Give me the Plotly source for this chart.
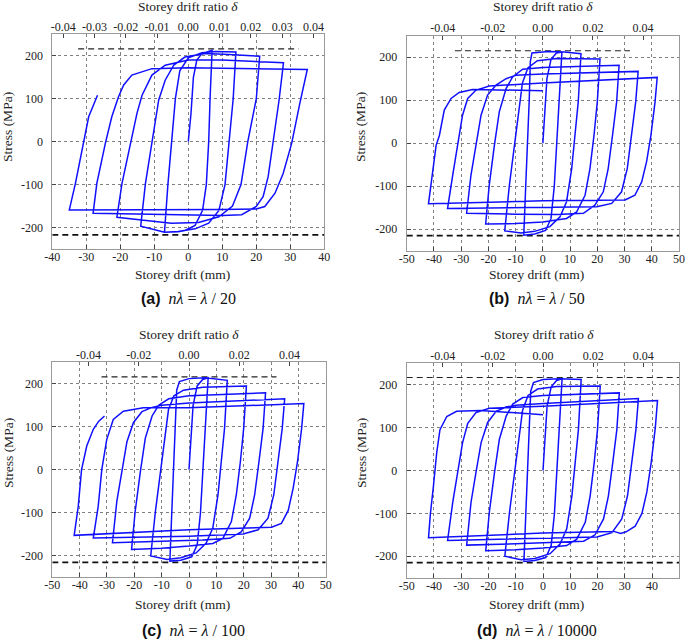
import plotly.graph_objects as go

# ---------------- data ----------------
# Panel (a)  n*lambda = lambda/20
a_drift = [0, 0.8, 1.5, 2.5, 4, 7,
           6.4, 6.0, 5.3, 4.2, 2, -1, -3, -7,
           -6, -5, -3.8, -2.5, 0, 4, 8, 14,
           13.2, 12, 10.8, 9, 6, 2, -3, -7, -14,
           -12.6, -10.7, -8.7, -6.8, -4.3, -1, 5, 12, 21,
           20, 17.5, 15.5, 13, 9, 3, -5, -21,
           -19.5, -17, -15.1, -13.6, -10.7, -6.8, 0, 10, 28,
           26.7, 25, 23.5, 22, 20, 15.7, 10, -28,
           -26.9, -24.4, -22.5, -20.5, -19, -16.6, -10.7, 0, 35,
           32.8, 30.4, 27.9, 25.5, 22.5, 20, 10, -35,
           -33.2, -30.8, -29.3, -26.7]
a_stress = [0, 66, 150, 190, 205, 213,
            100, 0, -100, -160, -195, -207, -210, -211,
            -100, 0, 100, 165, 195, 207, 210, 209,
            100, 0, -100, -160, -190, -203, -209, -211, -197,
            -97, 0, 97, 143, 178, 197, 205, 203, 199,
            100, 0, -100, -150, -175, -188, -190, -176,
            -97, -4, 66, 108, 155, 178, 190, 190, 184,
            97, 0, -81, -128, -151, -170, -172, -167,
            -97, -4, 58, 105, 132, 155, 170, 172, 168,
            89, -4, -74, -120, -151, -157, -158, -159,
            -97, 4, 58, 108]

# Panel (b)  n*lambda = lambda/50
b_drift = [0, 0.5, 1.5, 3, 5, 7,
           6, 5, 4.2, 3, 1, -3, -7,
           -6.3, -5.6, -5, -4.6, -4, 2, 8, 14,
           13, 11.8, 10.6, 8.7, 6.3, 2.6, -3, -8, -14,
           -12.3, -10.5, -8.9, -7.5, -5.5, -2, 5, 21,
           20, 18.8, 17.3, 15.5, 12.4, 8.7, 0, -10, -21,
           -19.7, -17.8, -16, -13.5, -11.1, -7.4, 0, 28,
           27.1, 25.6, 24, 22.2, 19.1, 14.9, 5, -10, -28,
           -26.4, -24.6, -22.7, -20.3, -17.2, -13.5, -9.9, 0, 35,
           34.1, 32.6, 31, 28.9, 25.3, 19.8, 0, -35,
           -33.1, -31.3, -29.5, -27.6, -24.6, -19.7, 0, 42,
           41.2, 39.7, 38.1, 36.3, 33.8, 30.2, 0, -42,
           -40.5, -39.2, -38, -36.2, -33.7, -30.7, -25.8, 0]
b_stress = [0, 60, 150, 195, 210, 212,
            100, 0, -100, -175, -203, -211, -214,
            -100, 0, 100, 190, 210, 213, 212, 208,
            96, 19, -59, -136, -171, -194, -205, -209, -204,
            -98, -5, 81, 140, 175, 192, 197, 196,
            96, 19, -59, -121, -160, -175, -183, -187, -188,
            -98, -5, 73, 127, 154, 172, 176, 181,
            96, 19, -59, -113, -144, -163, -166, -165, -163,
            -74, -5, 65, 112, 135, 150, 158, 161, 167,
            96, 19, -59, -113, -140, -148, -150, -152,
            -74, -5, 65, 104, 123, 133, 140, 153,
            96, 19, -43, -90, -121, -132, -134, -141,
            -74, -5, 18, 77, 104, 118, 125, 122]

# Panel (c)  n*lambda = lambda/100
c_drift = [0, 0.5, 1.5, 3, 5, 7,
           6, 5, 4.2, 3, 1, -3, -7,
           -6.3, -5.6, -5, -4.5, -3.5, 0, 6, 14,
           13, 11.8, 10.6, 8.7, 6.3, 2.6, -3, -8, -14,
           -12.3, -10.5, -8.9, -7.5, -5.5, -2, 5, 21,
           20, 18.8, 17.3, 15.5, 12.4, 8.7, 0, -10, -21,
           -19.7, -17.8, -16, -13.5, -11.1, -7.4, 0, 28,
           27.1, 25.6, 24, 22.2, 19.1, 14.9, 5, -10, -28,
           -26.4, -24.6, -22.7, -20.3, -17.2, -13.5, -9.9, 0, 35,
           34.1, 32.6, 31, 28.9, 25.3, 19.8, 0, -35,
           -33.2, -31.9, -30.1, -27.7, -24, -16.7, 0, 42,
           41.2, 39.7, 38.1, 36.3, 33.8, 30.2, 0, -42,
           -40.5, -39.3, -37.4, -35, -33, -30.9]
c_stress = [0, 60, 150, 195, 210, 214,
            100, 0, -100, -175, -203, -211, -213,
            -100, 0, 100, 185, 205, 212, 214, 208,
            96, 19, -59, -136, -171, -194, -205, -209, -201,
            -98, -5, 81, 140, 172, 185, 192, 195,
            96, 19, -59, -121, -160, -172, -178, -183, -186,
            -98, -5, 73, 125, 150, 165, 172, 179,
            96, 19, -59, -113, -145, -160, -164, -167, -170,
            -74, -5, 65, 110, 135, 145, 150, 155, 165,
            96, 19, -59, -113, -140, -150, -155, -159,
            -85, 0, 70, 117, 136, 144, 144, 154,
            96, 19, -43, -95, -125, -134, -140, -153,
            -85, 0, 55, 94, 113, 125]

# Panel (d)  n*lambda = lambda/10000
d_drift = [0, 0.5, 1.5, 3, 5, 7,
           6, 5, 4.2, 3, 1, -3, -7,
           -6.3, -5.6, -5, -4.5, -3.5, 0, 6, 14,
           13, 11.8, 10.6, 8.7, 6.3, 2.6, -3, -8, -14,
           -12.3, -10.5, -8.9, -7.5, -5.5, -2, 5, 21,
           20, 18.8, 17.3, 15.5, 12.4, 8.7, 0, -10, -21,
           -19.7, -17.8, -16, -13.5, -11.1, -7.4, 0, 28,
           27.1, 25.6, 24, 22.2, 19.1, 14.9, 5, -10, -28,
           -26.4, -24.6, -22.7, -20.3, -17.2, -13.5, -9.9, 0, 35,
           34.1, 32.6, 31, 28.9, 25.3, 19.8, 0, -35,
           -33.1, -31.3, -29.5, -27.6, -24.6, -19.7, 0, 42,
           41.2, 39.7, 38.1, 36.3, 33.8, 30.5, 28.5, 26, 0, -42,
           -41.3, -40.2, -39, -37.8, -35.3, -31.7, -23, 0]
d_stress = [0, 60, 150, 195, 210, 214,
            100, 0, -100, -175, -203, -210, -212,
            -100, 0, 100, 185, 205, 212, 214, 212,
            96, 19, -59, -136, -171, -194, -205, -208, -200,
            -98, -5, 81, 140, 175, 190, 196, 197,
            96, 19, -59, -121, -160, -175, -181, -185, -187,
            -98, -5, 73, 127, 155, 170, 175, 181,
            96, 19, -59, -113, -150, -165, -168, -171, -174,
            -74, -5, 65, 112, 138, 148, 152, 156, 168,
            96, 19, -59, -113, -145, -155, -158, -163,
            -74, -5, 65, 110, 135, 145, 150, 163,
            100, 19, -50, -100, -130, -143, -147, -142, -146, -157,
            -100, -37, 41, 95, 126, 138, 140, 130]

# dashed reference (limit stress) lines: [x0, x1], y
a_upper_x, a_upper_y = [-32.4, 32.4], 216
a_lower_x, a_lower_y = [-40, 40], -217
b_upper_x, b_upper_y = [-32.3, 32], 215
b_lower_x, b_lower_y = [-50, 50], -215
c_upper_x, c_upper_y = [-32, 32], 216
c_lower_x, c_lower_y = [-50, 50], -216
d_upper_x, d_upper_y = [-50, 50], 217
d_lower_x, d_lower_y = [-50, 50], -215

# tick labels
stress_ticks = [-200, -100, 0, 100, 200]
stress_labels = ["-200", "-100", "0", "100", "200"]
drift_ticks_a = [-40, -30, -20, -10, 0, 10, 20, 30, 40]
drift_labels_a = ["-40", "-30", "-20", "-10", "0", "10", "20", "30", "40"]
drift_ticks_b = [-50, -40, -30, -20, -10, 0, 10, 20, 30, 40, 50]
drift_labels_b = ["-50", "-40", "-30", "-20", "-10", "0", "10", "20", "30", "40", "50"]
ratio_ticks_a = [-0.04, -0.03, -0.02, -0.01, 0.0, 0.01, 0.02, 0.03, 0.04]
ratio_labels_a = ["-0.04", "-0.03", "-0.02", "-0.01", "0.00", "0.01", "0.02", "0.03", "0.04"]
ratio_ticks_b = [-0.04, -0.02, 0.0, 0.02, 0.04]
ratio_labels_b = ["-0.04", "-0.02", "0.00", "0.02", "0.04"]
drift_per_ratio = 920.0  # mm per unit drift ratio

captions = ["(a)", "(b)", "(c)", "(d)"]
denominators = ["20", "50", "100", "10000"]

# ---------------- figure ----------------
W, H = 685, 639
SERIF = "Liberation Serif"
BLUE = "#1010ff"

panels = [
    dict(x=a_drift, y=a_stress, up=(a_upper_x, a_upper_y), lo=(a_lower_x, a_lower_y),
         px=(52.3, 324.3), py=(34.3, 249.0), xr=[-40, 40],
         xt=(drift_ticks_a, drift_labels_a), rt=(ratio_ticks_a, ratio_labels_a)),
    dict(x=b_drift, y=b_stress, up=(b_upper_x, b_upper_y), lo=(b_lower_x, b_lower_y),
         px=(406.7, 679.0), py=(35.7, 250.7), xr=[-50, 50],
         xt=(drift_ticks_b, drift_labels_b), rt=(ratio_ticks_b, ratio_labels_b)),
    dict(x=c_drift, y=c_stress, up=(c_upper_x, c_upper_y), lo=(c_lower_x, c_lower_y),
         px=(52.3, 325.7), py=(362.3, 577.0), xr=[-50, 50],
         xt=(drift_ticks_b, drift_labels_b), rt=(ratio_ticks_b, ratio_labels_b)),
    dict(x=d_drift, y=d_stress, up=(d_upper_x, d_upper_y), lo=(d_lower_x, d_lower_y),
         px=(406.7, 679.3), py=(363.3, 577.7), xr=[-50, 50],
         xt=(drift_ticks_b, drift_labels_b), rt=(ratio_ticks_b, ratio_labels_b)),
]

fig = go.Figure()
layout = dict(width=W, height=H, margin=dict(l=0, r=0, t=0, b=0, autoexpand=False),
              paper_bgcolor="white", plot_bgcolor="white", showlegend=False,
              font=dict(family=SERIF, size=12, color="#222"))
annotations = []

def fx(p):
    return p / W

def fy(p):
    return 1 - p / H

for i, P in enumerate(panels, start=1):
    xa, ya, xt_name = f"x{i}", f"y{i}", f"x{i+4}"
    # reference dashed lines
    fig.add_trace(go.Scatter(x=P["up"][0], y=[P["up"][1]] * 2, mode="lines",
                             line=dict(color="#222", width=1.1, dash="6px,4px"),
                             xaxis=xa, yaxis=ya, hoverinfo="skip"))
    fig.add_trace(go.Scatter(x=P["lo"][0], y=[P["lo"][1]] * 2, mode="lines",
                             line=dict(color="#111", width=1.7, dash="6px,4px"),
                             xaxis=xa, yaxis=ya, hoverinfo="skip"))
    # hysteresis curve
    fig.add_trace(go.Scatter(x=P["x"], y=P["y"], mode="lines",
                             line=dict(color=BLUE, width=1.5),
                             xaxis=xa, yaxis=ya))
    # invisible trace on top ratio axis
    fig.add_trace(go.Scatter(x=[P["xr"][0] / drift_per_ratio, P["xr"][1] / drift_per_ratio],
                             y=[None, None], mode="lines", xaxis=xt_name, yaxis=ya,
                             hoverinfo="skip"))

    dom_x = [fx(P["px"][0]), fx(P["px"][1])]
    dom_y = [fy(P["py"][1]), fy(P["py"][0])]
    common = dict(showline=True, linecolor="#999", linewidth=1, ticks="inside",
                  ticklen=4, tickcolor="#444", zeroline=False, automargin=False,
                  tickfont=dict(family=SERIF, size=12, color="#222"))
    layout[f"xaxis{i}"] = dict(domain=dom_x, anchor=ya, range=P["xr"],
                               tickmode="array", tickvals=P["xt"][0], ticktext=P["xt"][1],
                               showgrid=True, gridcolor="#808080", griddash="3px,3px", gridwidth=0.9,
                               mirror=False, ticklabelstandoff=-3, **common)
    layout[f"yaxis{i}"] = dict(domain=dom_y, anchor=xa, range=[-250, 250],
                               tickmode="array", tickvals=stress_ticks, ticktext=stress_labels,
                               showgrid=True, gridcolor="#808080", griddash="3px,3px", gridwidth=0.9,
                               mirror=True, ticklabelstandoff=6, **common)
    layout[f"xaxis{i+4}"] = dict(overlaying=xa, anchor=ya, side="top",
                                 range=[P["xr"][0] / drift_per_ratio, P["xr"][1] / drift_per_ratio],
                                 tickmode="array", tickvals=P["rt"][0], ticktext=P["rt"][1],
                                 showgrid=False, ticklabelstandoff=-2, **common)

# titles / captions (pixel positions)
top_titles = [(188, 6), (543, 6), (189, 334), (544, 334)]
bot_titles = [(183, 274), (536, 274), (183, 604), (536, 604)]
y_titles = [(8, 127), (361, 127), (8, 453), (361, 453)]
cap_pos = [(188, 298), (537, 298), (193, 630), (537, 630)]

for k in range(4):
    annotations.append(dict(text="Storey drift ratio <i>δ</i>", x=fx(top_titles[k][0]),
                            y=fy(top_titles[k][1]), xref="paper", yref="paper",
                            showarrow=False, xanchor="center", yanchor="middle",
                            font=dict(family=SERIF, size=13.5, color="#222")))
    annotations.append(dict(text="Storey drift (mm)", x=fx(bot_titles[k][0]),
                            y=fy(bot_titles[k][1]), xref="paper", yref="paper",
                            showarrow=False, xanchor="center", yanchor="middle",
                            font=dict(family=SERIF, size=13.5, color="#222")))
    annotations.append(dict(text="Stress (MPa)", x=fx(y_titles[k][0]),
                            y=fy(y_titles[k][1]), xref="paper", yref="paper",
                            showarrow=False, xanchor="center", yanchor="middle",
                            textangle=-90,
                            font=dict(family=SERIF, size=13.5, color="#222")))
    cap = ('<span style="font-family:Liberation Sans"><b>' + captions[k] + '</b></span>'
           '  <i>nλ</i> = <i>λ</i> / ' + denominators[k])
    annotations.append(dict(text=cap, x=fx(cap_pos[k][0]), y=fy(cap_pos[k][1]),
                            xref="paper", yref="paper", showarrow=False,
                            xanchor="center", yanchor="middle",
                            font=dict(family=SERIF, size=16, color="#111")))

layout["annotations"] = annotations
fig.update_layout(**layout)
fig.write_html("out.html", config={"displayModeBar": False},
               post_script="document.body.style.margin='0';document.body.style.overflow='hidden';")
